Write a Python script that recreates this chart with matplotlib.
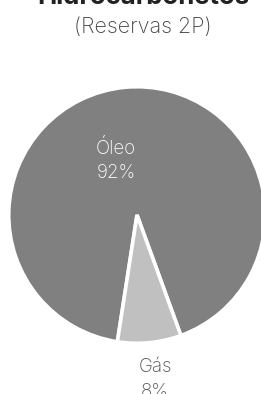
import matplotlib
matplotlib.use("Agg")
import matplotlib.pyplot as plt

# dados
categorias = ["Óleo", "Gás"]
percentuais = [92, 8]
cores = ["#808080", "#c0c0c0"]
cores_texto = ["white", "#555555"]
# posição dos rótulos (unidades do raio)
rotulos_pos = [(-0.165, 0.43), (0.142, -1.295)]

FONTE = ["Inter", "DejaVu Sans"]

fig = plt.figure(figsize=(2.61, 3.94), dpi=100)
fig.patch.set_facecolor("white")

W, H = 261, 394
cx, cy, r = 137, 215, 127
ax = fig.add_axes([(cx - r) / W, (H - cy - r) / H, 2 * r / W, 2 * r / H])

ax.pie(percentuais, colors=cores, startangle=-70, counterclock=True,
       radius=1.01, wedgeprops=dict(edgecolor="white", linewidth=2.6))
ax.set_xlim(-1, 1)
ax.set_ylim(-1, 1)
ax.set_aspect("equal")
ax.axis("off")

for nome, p, (x, y), c in zip(categorias, percentuais, rotulos_pos, cores_texto):
    ax.text(x, y, f"{nome}\n{p}%", ha="center", va="center", color=c,
            fontsize=13.5, family=FONTE, fontweight="light", linespacing=1.45)

fig.text(143 / W, 1 - 4 / H, "Hidrocarbonetos", ha="center", va="baseline",
         fontsize=18.5, fontweight="bold", color="#222222", family=FONTE)
fig.text(143 / W, 1 - 27 / H, "(Reservas 2P)", ha="center", va="center",
         fontsize=15.5, color="#444444", family=FONTE, fontweight="light")

fig.savefig("out.png", dpi=100, facecolor="white")
